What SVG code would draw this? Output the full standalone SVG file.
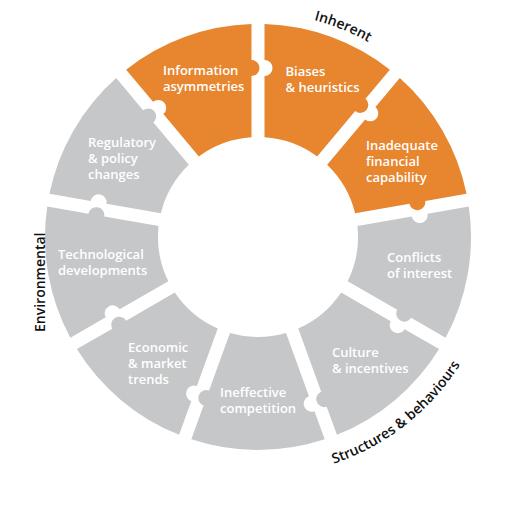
<svg xmlns="http://www.w3.org/2000/svg" width="525" height="516" viewBox="0 0 525 516">
<defs>
<style>
.or{fill:#e7862e}
.gr{fill:#c6c7c9}
.lb{font-family:"Open Sans","Liberation Sans",sans-serif;font-weight:600;font-size:13px;fill:#ffffff}
.gp{font-family:"Open Sans","Liberation Sans",sans-serif;font-weight:600;font-size:14px;fill:#111111}
</style>
<path id="arcInherent" d="M314.08,20.13 A224,224 0 0 1 401.98,65.41"/>
<path id="arcStruct" d="M333.83,463.65 A239,239 0 0 0 482.59,318.74"/>
</defs>
<rect width="525" height="516" fill="#ffffff"/>

<g id="biases">
<path class="or" transform="translate(258 237) rotate(0)" d="M6.5,-212.9 A213,213 0 0 1 131.87,-167.27 L107.51,-138.24 A8,8 0 0 1 97.22,-125.98 L59.17,-80.62 A100,100 0 0 0 6.5,-99.79 L6.5,-161 A8,8 0 0 0 6.5,-177 Z"/>
<text class="lb"><tspan x="285.5" y="76">Biases</tspan><tspan x="285.5" y="92">&amp; heuristics</tspan></text>
</g>

<g id="inadequate">
<path class="or" transform="translate(258 237) rotate(40)" d="M6.5,-212.9 A213,213 0 0 1 131.87,-167.27 L104.94,-135.17 A8,8 0 0 1 94.65,-122.92 L59.17,-80.62 A100,100 0 0 0 6.5,-99.79 L6.5,-159 A8,8 0 0 0 6.5,-175 Z"/>
<text class="lb"><tspan x="366" y="150">Inadequate</tspan><tspan x="366" y="166">financial</tspan><tspan x="366" y="182">capability</tspan></text>
</g>

<g id="conflicts">
<path class="gr" transform="translate(258 237) rotate(80)" d="M6.5,-212.9 A213,213 0 0 1 131.87,-167.27 L106.22,-136.7 A8,8 0 0 1 95.94,-124.45 L59.17,-80.62 A100,100 0 0 0 6.5,-99.79 L6.5,-155 A8,8 0 0 0 6.5,-171 Z"/>
<text class="lb"><tspan x="387" y="262">Conflicts</tspan><tspan x="387" y="278">of interest</tspan></text>
</g>

<g id="culture">
<path class="gr" transform="translate(258 237) rotate(120)" d="M6.5,-212.9 A213,213 0 0 1 131.87,-167.27 L112.65,-144.36 A8,8 0 0 1 102.37,-132.11 L59.17,-80.62 A100,100 0 0 0 6.5,-99.79 L6.5,-157 A8,8 0 0 0 6.5,-173 Z"/>
<text class="lb"><tspan x="332" y="357">Culture</tspan><tspan x="332" y="373">&amp; incentives</tspan></text>
</g>

<g id="ineffective">
<path class="gr" transform="translate(258 237) rotate(160)" d="M6.5,-212.9 A213,213 0 0 1 131.87,-167.27 L108.79,-139.77 A8,8 0 0 1 98.51,-127.51 L59.17,-80.62 A100,100 0 0 0 6.5,-99.79 L6.5,-167 A8,8 0 0 0 6.5,-183 Z"/>
<text class="lb"><tspan x="220" y="397">Ineffective</tspan><tspan x="220" y="413">competition</tspan></text>
</g>

<g id="economic">
<path class="gr" transform="translate(258 237) rotate(200)" d="M6.5,-212.9 A213,213 0 0 1 131.87,-167.27 L105.58,-135.94 A8,8 0 0 1 95.3,-123.68 L59.17,-80.62 A100,100 0 0 0 6.5,-99.79 L6.5,-161 A8,8 0 0 0 6.5,-177 Z"/>
<text class="lb"><tspan x="128" y="352">Economic</tspan><tspan x="128" y="368">&amp; market</tspan><tspan x="128" y="384">trends</tspan></text>
</g>

<g id="technological">
<path class="gr" transform="translate(258 237) rotate(240)" d="M6.5,-212.9 A213,213 0 0 1 131.87,-167.27 L104.94,-135.17 A8,8 0 0 1 94.65,-122.92 L59.17,-80.62 A100,100 0 0 0 6.5,-99.79 L6.5,-156 A8,8 0 0 0 6.5,-172 Z"/>
<text class="lb"><tspan x="58" y="259">Technological</tspan><tspan x="58" y="275">developments</tspan></text>
</g>

<g id="regulatory">
<path class="gr" transform="translate(258 237) rotate(280)" d="M6.5,-212.9 A213,213 0 0 1 131.87,-167.27 L104.94,-135.17 A8,8 0 0 1 94.65,-122.92 L59.17,-80.62 A100,100 0 0 0 6.5,-99.79 L6.5,-155 A8,8 0 0 0 6.5,-171 Z"/>
<text class="lb"><tspan x="88" y="147">Regulatory</tspan><tspan x="88" y="163">&amp; policy</tspan><tspan x="88" y="179">changes</tspan></text>
</g>

<g id="information">
<path class="or" transform="translate(258 237) rotate(320)" d="M6.5,-212.9 A213,213 0 0 1 131.87,-167.27 L108.79,-139.77 A8,8 0 0 1 98.51,-127.51 L59.17,-80.62 A100,100 0 0 0 6.5,-99.79 L6.5,-155 A8,8 0 0 0 6.5,-171 Z"/>
<text class="lb"><tspan x="163" y="75">Information</tspan><tspan x="163" y="91">asymmetries</tspan></text>
</g>

<g id="group-labels">
<text class="gp"><textPath href="#arcInherent">Inherent</textPath></text>
<text class="gp"><textPath href="#arcStruct">Structures &amp; behaviours</textPath></text>
<text class="gp" transform="translate(45 332) rotate(-90)">Environmental</text>
</g>
</svg>
